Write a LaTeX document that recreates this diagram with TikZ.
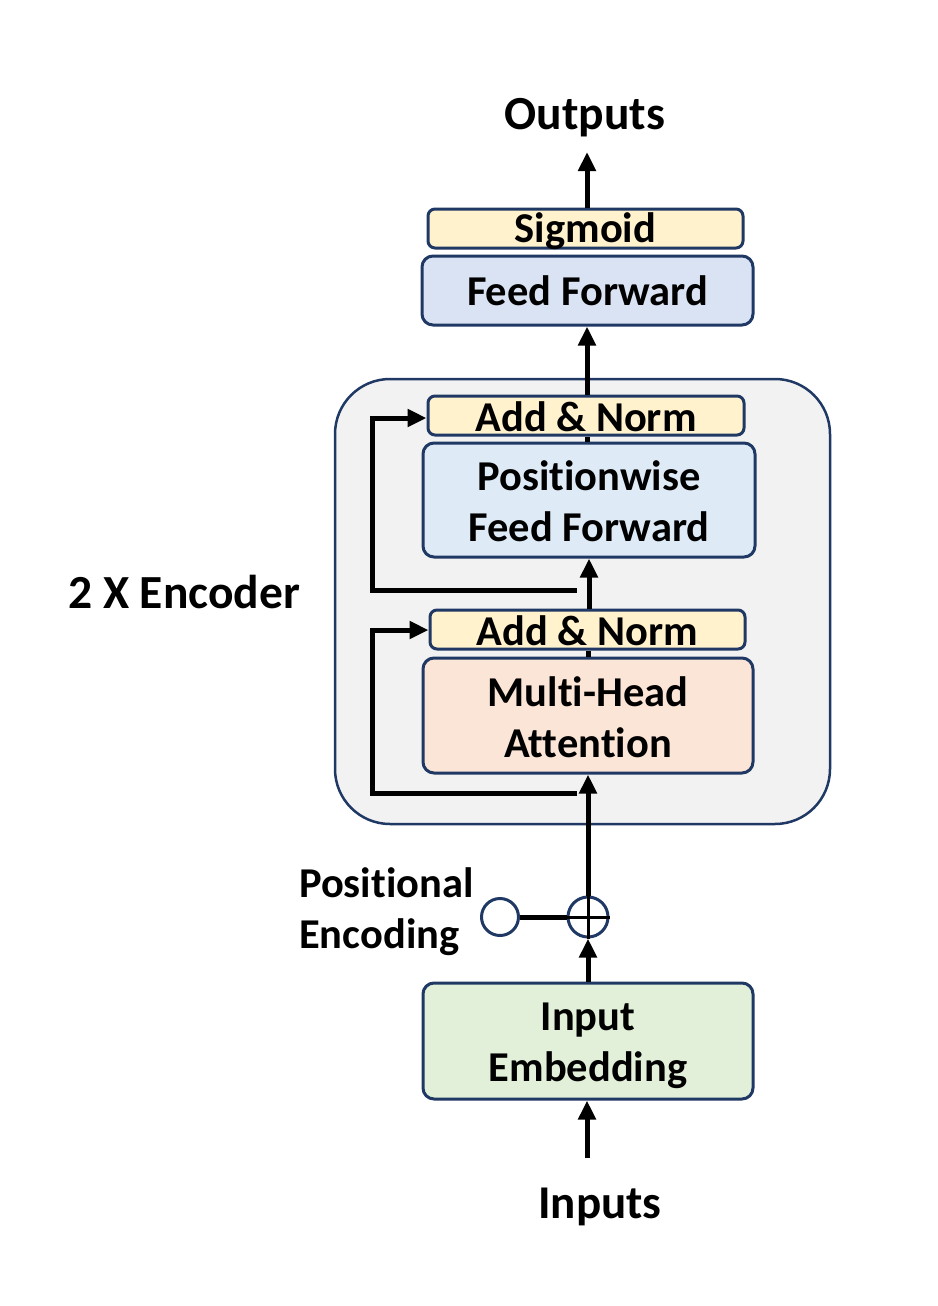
\documentclass[tikz,border=0pt]{standalone}
\usepackage{fontspec}
\setmainfont{Carlito}[Ligatures=NoCommon]
\usetikzlibrary{arrows.meta}
\definecolor{navy}{HTML}{1F3864}
\definecolor{yel}{HTML}{FFF2CC}
\definecolor{blu}{HTML}{DAE3F3}
\definecolor{blu2}{HTML}{DEEBF7}
\definecolor{ora}{HTML}{FBE5D6}
\definecolor{grn}{HTML}{E2F0D9}
\definecolor{gry}{HTML}{F2F2F2}
\newcommand{\dn}[2]{\raisebox{-#1}[\height][\depth]{#2}}
\tikzset{
  box/.style={draw=navy, line width=3pt, rounded corners=11pt, font=\fontsize{42.5}{51}\selectfont\bfseries, align=center, inner sep=0pt},
  arr/.style={line width=5pt, -{Triangle[width=17pt,length=19pt]}},
  ln/.style={line width=5pt},
  lbl/.style={font=\fontsize{42.5}{51}\selectfont\bfseries, inner sep=0pt},
}
\begin{document}
\begin{tikzpicture}[x=1pt,y=-1pt]
\useasboundingbox (0,0) rectangle (937,1306);
% encoder container
\node[draw=navy, line width=2.5pt, fill=gry, rounded corners=55pt, minimum width=495pt, minimum height=445pt, inner sep=0pt] (enc) at (582.5,601.5) {};
% boxes
\node[box, fill=yel, minimum width=315pt, minimum height=39pt, rounded corners=7pt] (sig) at (585.5,228.5) {\dn{3pt}{Sigmoid}};
\node[box, fill=blu, minimum width=331pt, minimum height=69pt] (ff) at (587.5,290.5) {Feed Forward};
\node[box, fill=yel, minimum width=316pt, minimum height=39pt, rounded corners=7pt] (an1) at (586,415.5) {\dn{1pt}{Add \& Norm}};
\node[box, fill=blu2, minimum width=332pt, minimum height=114pt] (pff) at (589,500) {\dn{1pt}{Positionwise}\\\dn{1pt}{Feed Forward}};
\node[box, fill=yel, minimum width=315pt, minimum height=39pt, rounded corners=7pt] (an2) at (587.5,629.5) {\dn{1pt}{Add \& Norm}};
\node[box, fill=ora, minimum width=330pt, minimum height=115pt] (mha) at (588,715.5) {\dn{1.5pt}{Multi-Head}\\\dn{1.5pt}{Attention}};
\node[box, fill=grn, minimum width=330pt, minimum height=116pt] (ie) at (588,1041) {\dn{4.5pt}{Input}\\\dn{4.5pt}{Embedding}};
% circles
\node[circle, draw=navy, line width=3pt, minimum size=37pt, inner sep=0pt] (pe) at (500,917) {};
\node[circle, draw=navy, line width=3pt, minimum size=40pt, inner sep=0pt] (plus) at (588,917) {};
% labels
\node[lbl, font=\fontsize{47.5}{50}\selectfont\bfseries] (out) at (585,118) {Outputs};
\node[lbl, font=\fontsize{47}{50}\selectfont\bfseries] (inp) at (600,1207) {Inputs};
\node[lbl, anchor=west, font=\fontsize{47.5}{50}\selectfont\bfseries] (encl) at (68,592) {2 X Encoder};
\node[lbl, anchor=west, align=left] (pel) at (299,911.5) {Positional\\Encoding};
% coordinates
\coordinate (outb) at (587,152);
\coordinate (inb) at (587,1158);
\coordinate (r1) at (577,590);
\coordinate (r2) at (577,793);
% connectors
\draw[arr] (sig.north -| outb) -- (outb);
\draw[arr] (an1.north -| 587,0) -- (ff.south -| 587,0);
\draw[ln] (an1.south -| 587,0) -- (pff.north -| 587,0);
\draw[arr] (an2.north -| 589,0) -- (pff.south -| 589,0);
\draw[ln] (an2.south -| 588,0) -- (mha.north -| 588,0);
\draw[arr] (plus.north) -- (mha.south -| plus);
\draw[arr] (ie.north -| plus) -- (plus.south);
\draw[arr] (inb) -- (ie.south -| inb);
\draw[ln] (pe.east) -- (plus.west);
\draw[line width=3pt] (plus.north) -- (plus.south) (plus.west) -- (plus.east);
\draw[arr] (r1) -- (372,590) -- (372,418) -- (an1.west |- 0,418);
\draw[arr] (r2) -- (372,793) -- (372,630) -- (an2.west |- 0,630);
\end{tikzpicture}
\end{document}
